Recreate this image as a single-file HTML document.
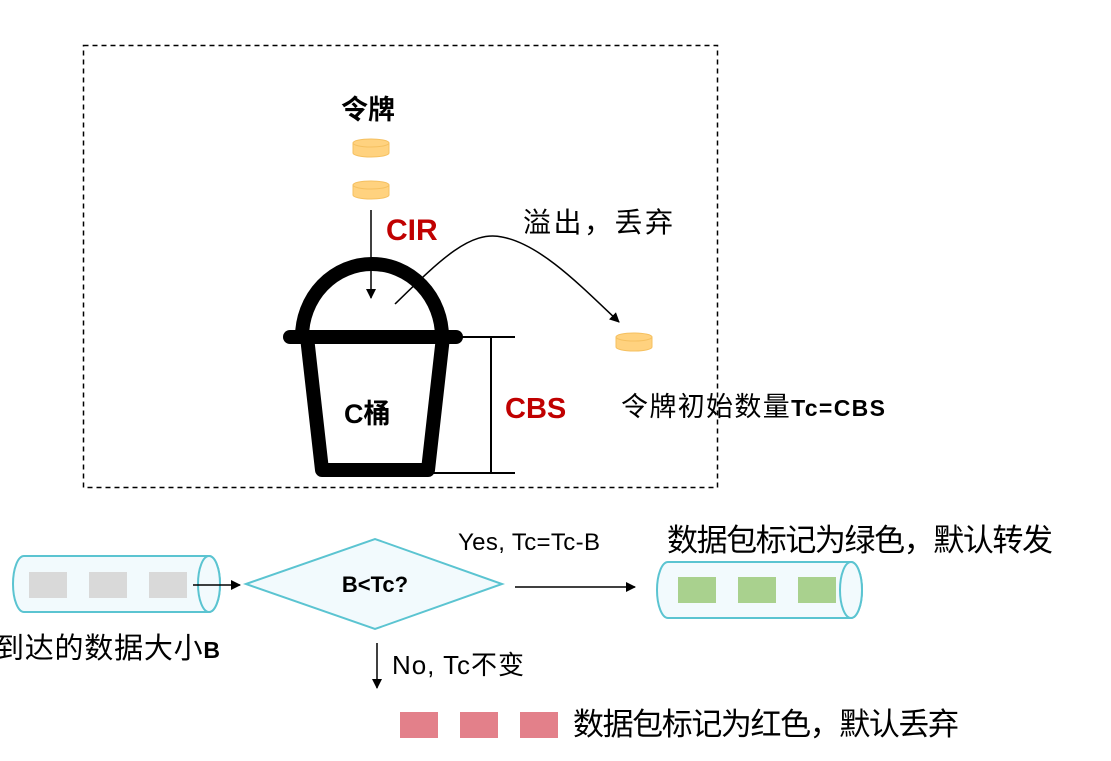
<!DOCTYPE html>
<html><head><meta charset="utf-8"><style>
html,body{margin:0;padding:0;background:#fff;}
svg{display:block;}
text{font-family:"Liberation Sans","Noto Sans CJK SC",sans-serif;}
</style></head><body>
<svg width="1111" height="761" viewBox="0 0 1111 761" xmlns="http://www.w3.org/2000/svg">
<defs>
<marker id="ah" markerWidth="10" markerHeight="10" refX="9" refY="5" orient="auto" markerUnits="userSpaceOnUse">
<path d="M0,0 L10,5 L0,10 z" fill="#000"/></marker>
</defs>
<rect x="83.5" y="45.5" width="634" height="442" fill="none" stroke="#000" stroke-width="1.5" stroke-dasharray="5,4"/>
<text x="368" y="119" font-size="27" font-weight="bold" text-anchor="middle">令牌</text>
<g fill="#FFD27F" stroke="#F5C060" stroke-width="1">
<path d="M353,143 v10 a18,4 0 0 0 36,0 v-10 z"/><ellipse cx="371" cy="143" rx="18" ry="4"/>
<path d="M353,185 v10 a18,4 0 0 0 36,0 v-10 z"/><ellipse cx="371" cy="185" rx="18" ry="4"/>
<path d="M616,337 v10 a18,4 0 0 0 36,0 v-10 z"/><ellipse cx="634" cy="337" rx="18" ry="4"/>
</g>
<line x1="371" y1="210" x2="371" y2="298" stroke="#000" stroke-width="1.5" marker-end="url(#ah)"/>
<text x="386" y="240" font-size="30" font-weight="bold" fill="#C00000">CIR</text>
<path d="M302,337 A70,73 0 0 1 442,337" fill="none" stroke="#000" stroke-width="14"/>
<line x1="290" y1="337" x2="456" y2="337" stroke="#000" stroke-width="14" stroke-linecap="round"/>
<path d="M307,337 L322,470 L428,470 L443,337" fill="none" stroke="#000" stroke-width="14" stroke-linejoin="round"/>
<g stroke="#000" stroke-width="2">
<line x1="456" y1="337" x2="515" y2="337"/><line x1="430" y1="473" x2="515" y2="473"/>
<line x1="491" y1="337" x2="491" y2="473"/></g>
<text x="505" y="418" font-size="29" font-weight="bold" fill="#C00000">CBS</text>
<text x="344" y="423" font-size="27" font-weight="bold">C桶</text>
<path d="M395,304 C440,260 470,230 502,237 C540,244 580,285 619,322" fill="none" stroke="#000" stroke-width="1.5" marker-end="url(#ah)"/>
<text x="523" y="232" font-size="28" textLength="150">溢出，丢弃</text>
<text x="621" y="416" font-size="27" textLength="264">令牌初始数量<tspan font-weight="bold" font-size="23">Tc=CBS</tspan></text>
<g fill="#F2FAFD" stroke="#5BC4D1" stroke-width="2">
<path d="M24,556 L209,556 A11,28 0 0 1 209,612 L24,612 A11,28 0 0 1 24,556 z"/>
<ellipse cx="209" cy="584" rx="11" ry="28"/>
<path d="M668,562 L851,562 A11,28 0 0 1 851,618 L668,618 A11,28 0 0 1 668,562 z"/>
<ellipse cx="851" cy="590" rx="11" ry="28"/>
<polygon points="246,584 375,539 502,584 375,629"/>
</g>
<g fill="#D9D9D9"><rect x="29" y="572" width="38" height="26"/><rect x="89" y="572" width="38" height="26"/><rect x="149" y="572" width="38" height="26"/></g>
<g fill="#A9D18E"><rect x="678" y="577" width="38" height="26"/><rect x="738" y="577" width="38" height="26"/><rect x="798" y="577" width="38" height="26"/></g>
<g fill="#E3808A"><rect x="400" y="712" width="38" height="26"/><rect x="460" y="712" width="38" height="26"/><rect x="520" y="712" width="38" height="26"/></g>
<line x1="193" y1="585" x2="240" y2="585" stroke="#000" stroke-width="1.5" marker-end="url(#ah)"/>
<line x1="515" y1="587" x2="635" y2="587" stroke="#000" stroke-width="1.5" marker-end="url(#ah)"/>
<line x1="377" y1="643" x2="377" y2="688" stroke="#000" stroke-width="1.5" marker-end="url(#ah)"/>
<text x="375" y="592" font-size="22" font-weight="bold" text-anchor="middle">B&lt;Tc?</text>
<text x="458" y="550" font-size="24" textLength="142">Yes, Tc=Tc-B</text>
<text x="392" y="674" font-size="26" textLength="132">No, Tc不变</text>
<text x="667" y="551" font-size="31" textLength="386">数据包标记为绿色，默认转发</text>
<text x="573" y="735" font-size="31" textLength="386">数据包标记为红色，默认丢弃</text>
<text x="-5" y="658" font-size="29" textLength="225">到达的数据大小<tspan font-weight="bold" font-size="23">B</tspan></text>
</svg>
</body></html>
